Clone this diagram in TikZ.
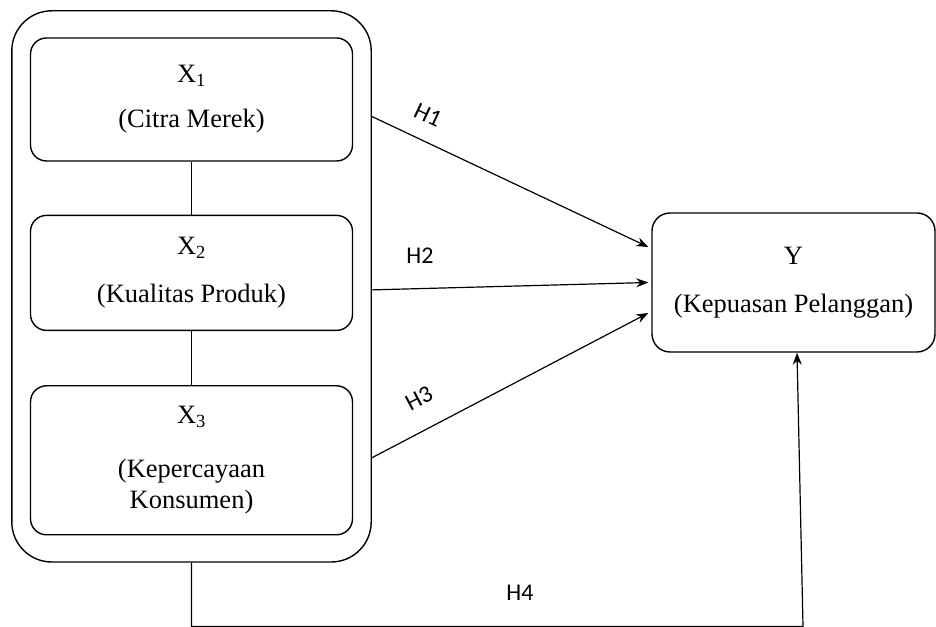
\documentclass[tikz,border=0pt]{standalone}
\usepackage{fontspec}
\setmainfont{Liberation Serif}
\newfontfamily\labelfont{Carlito}
\usetikzlibrary{arrows.meta,calc,positioning,fit}

\begin{document}
\begin{tikzpicture}[
  x=1pt, y=1pt,
  font=\fontsize{26.5}{31}\selectfont,
  node distance=53pt and 40pt,
  block/.style={draw, rounded corners=16pt, line width=1.4pt, minimum width=322pt,
                align=center, inner sep=0pt},
  group/.style={draw, rounded corners=40pt, line width=1.4pt, inner xsep=18pt,
                inner ysep=26.5pt},
  arrow/.style={-{Stealth[length=12pt,width=9pt]}, line width=1.2pt},
  link/.style={line width=1.2pt},
  hyp/.style={font=\labelfont\fontsize{24}{26}\selectfont, inner sep=1pt},
]
\useasboundingbox (0,0) rectangle (936,626);
\node[block, minimum height=123pt] (x1) at (191.5,526.5)
 {X\textsubscript{1}\\[14pt](Citra Merek)};
\node[block, below=53pt of x1, minimum height=115pt] (x2)
 {X\textsubscript{2}\\[17pt](Kualitas Produk)};
\node[block, below=54pt of x2, minimum height=149pt] (x3)
 {X\textsubscript{3}\\[23pt](Kepercayaan\\Konsumen)};
\node[group, fit=(x1) (x2) (x3)] (grp) {};
\node[block, minimum width=283pt, minimum height=139pt, rounded corners=18pt] (y)
 at (793.5,343.5) {Y\\[17pt](Kepuasan Pelanggan)};
\draw[link] (x1) -- (x2);
\draw[link] (x2) -- (x3);
% hypotheses
\coordinate (s1) at ($(grp.east |- x1)+(0,-17)$);
\coordinate (s2) at ($(grp.east |- x2)+(0,-17)$);
\coordinate (s3) at ($(grp.east |- x3)+(0,2.5)$);
\draw[arrow] (s1) -- ($(y.west)+(-3,35.5)$);
\draw[arrow] (s2) -- ($(y.west)+(-3,0)$);
\draw[arrow] (s3) -- ($(y.west)+(-3,-30.5)$);
\node[hyp, rotate=-25] (h1) at (428,511) {H1};
\node[hyp] (h2) at (420,370) {H2};
\node[hyp, rotate=28] (h3) at (419,228) {H3};
\coordinate (b1) at (grp.south |- 0,-0.4);
\coordinate (b2) at (803,-0.4);
\draw[arrow] (grp.south) -- (b1) -- (b2) -- ($(y.south)+(3.5,0)$);
\node[hyp] (h4) at (520,33) {H4};
\end{tikzpicture}
\end{document}
